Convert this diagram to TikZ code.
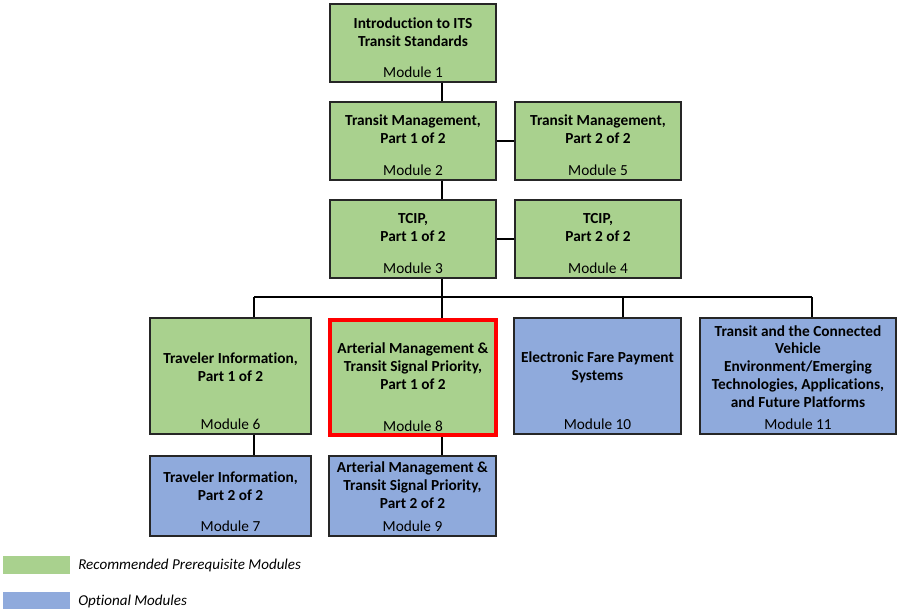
\documentclass[tikz,border=0pt]{standalone}
\usepackage{fontspec}
\setmainfont{Carlito}[Ligatures={NoCommon}]
\usetikzlibrary{calc,fit}
\definecolor{recgreen}{HTML}{A9D18E}
\definecolor{optblue}{HTML}{8FAADC}
\definecolor{edgegray}{HTML}{262626}
\definecolor{focusred}{HTML}{FF0000}

\begin{document}
\begin{tikzpicture}[x=0.75pt, y=-0.75pt,
  mod/.style={draw=edgegray, line width=1.1pt, inner sep=0pt},
  rec/.style={mod, fill=recgreen},
  opt/.style={mod, fill=optblue},
  ttl/.style={font=\bfseries\fontsize{11.5}{13.3}\selectfont, align=center, inner sep=0pt},
  num/.style={font=\fontsize{11.5}{13.3}\selectfont, anchor=base, inner sep=0pt},
  link/.style={draw=black, line width=1pt},
  swatch/.style={inner sep=0pt},
  key/.style={font=\itshape\fontsize{11.3}{13}\selectfont, anchor=west, inner sep=0pt}
]
\useasboundingbox (0,0) rectangle (900,613);

% ---- Core modules ------------------------------------------------------
\node[rec, fit={(330,4) (496,82)}] (m1) {};
\node[ttl] (m1t) at ($(m1.north)+(0,29)$) {Introduction to ITS\\Transit Standards};
\node[num] (m1n) at ($(m1.south)+(0,-5)$) {Module 1};

\node[rec, fit={(330,102) (496,180)}] (m2) {};
\node[ttl] (m2t) at ($(m2.north)+(0,28)$) {Transit Management,\\Part 1 of 2};
\node[num] (m2n) at ($(m2.south)+(0,-5)$) {Module 2};

\node[rec, fit={(515,102) (681,180)}] (m5) {};
\node[ttl] (m5t) at ($(m5.north)+(0,28)$) {Transit Management,\\Part 2 of 2};
\node[num] (m5n) at ($(m5.south)+(0,-5)$) {Module 5};

\node[rec, fit={(330,200) (496,278)}] (m3) {};
\node[ttl] (m3t) at ($(m3.north)+(0,28)$) {TCIP,\\Part 1 of 2};
\node[num] (m3n) at ($(m3.south)+(0,-5)$) {Module 3};

\node[rec, fit={(515,200) (681,278)}] (m4) {};
\node[ttl] (m4t) at ($(m4.north)+(0,28)$) {TCIP,\\Part 2 of 2};
\node[num] (m4n) at ($(m4.south)+(0,-5)$) {Module 4};

% ---- Second tier -------------------------------------------------------
\node[rec, fit={(150,318) (311,434)}] (m6) {};
\node[ttl] (m6t) at ($(m6.north)+(0,50)$) {Traveler Information,\\Part 1 of 2};
\node[num] (m6n) at ($(m6.south)+(0,-5)$) {Module 6};

\node[rec, draw=focusred, line width=3pt, fit={(330,320) (496,435)}] (m8) {};
\node[ttl] (m8t) at ($(m8.north)+(0,48)$) {Arterial Management \&\\Transit Signal Priority,\\Part 1 of 2};
\node[num] (m8n) at ($(m8.south)+(0,-6)$) {Module 8};

\node[opt, fit={(514,318) (681,434)}] (m10) {};
\node[ttl] (m10t) at ($(m10.north)+(0,50)$) {Electronic Fare Payment\\Systems};
\node[num] (m10n) at ($(m10.south)+(0,-5)$) {Module 10};

\node[opt, fit={(700,318) (896,434)}] (m11) {};
\node[ttl] (m11t) at ($(m11.north)+(0,49)$) {Transit and the Connected\\Vehicle\\Environment/Emerging\\Technologies, Applications,\\and Future Platforms};
\node[num] (m11n) at ($(m11.south)+(0,-5)$) {Module 11};

\node[opt, fit={(150,456) (311,536)}] (m7) {};
\node[ttl] (m7t) at ($(m7.north)+(0,31)$) {Traveler Information,\\Part 2 of 2};
\node[num] (m7n) at ($(m7.south)+(0,-5)$) {Module 7};

\node[opt, fit={(329,456) (496,536)}] (m9) {};
\node[ttl] (m9t) at ($(m9.north)+(0,30)$) {Arterial Management \&\\Transit Signal Priority,\\Part 2 of 2};
\node[num] (m9n) at ($(m9.south)+(0,-5)$) {Module 9};

% ---- Connectors --------------------------------------------------------
\coordinate (spine) at (442,297);
\coordinate (d6) at (254,297);
\coordinate (d10) at (623,297);
\coordinate (d11) at (812,297);
\draw[link] (m1.south -| spine) -- (m2.north -| spine);
\draw[link] (m2.south -| spine) -- (m3.north -| spine);
\draw[link] (m2.east) -- (m5.west);
\draw[link] (m3.east) -- (m4.west);
\draw[link] (m3.south -| spine) -- (m8.north -| spine);
\draw[link] (d6) -- (d11);
\draw[link] (d6) -- (m6.north -| d6);
\draw[link] (d10) -- (m10.north -| d10);
\draw[link] (d11) -- (m11.north -| d11);
\draw[link] (m6.south -| d6) -- (m7.north -| d6);
\draw[link] (m8.south -| spine) -- (m9.north -| spine);

% ---- Legend ------------------------------------------------------------
\node[swatch, fill=recgreen, fit={(3,556) (70,574)}] (kg) {};
\node[key] (kgt) at (78,565) {Recommended Prerequisite Modules};
\node[swatch, fill=optblue, fit={(3,592) (70,609)}] (kb) {};
\node[key] (kbt) at (78,601) {Optional Modules};
\end{tikzpicture}
\end{document}
